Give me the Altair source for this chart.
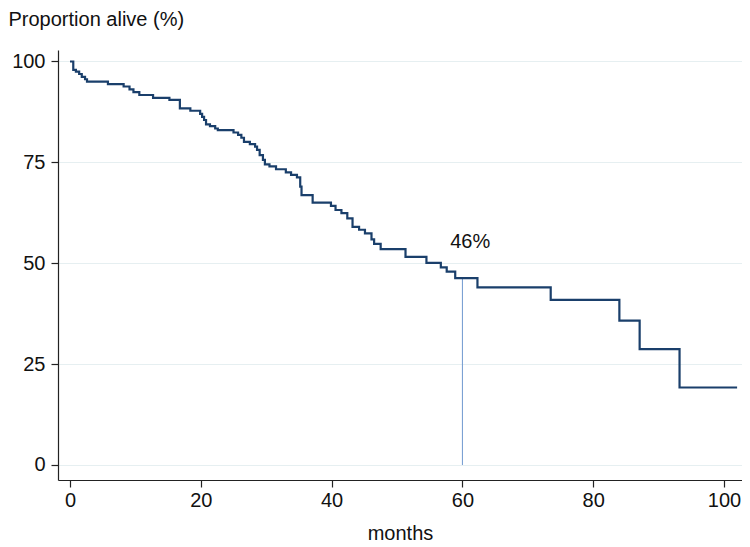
import altair as alt
import pandas as pd

# Kaplan-Meier step points: time of each drop (months) and the survival after it (%)
months = [0.0, 0.5, 0.9, 1.4, 1.8, 2.3, 2.6, 5.8, 8.2, 9.1, 9.7, 10.6, 12.7, 15.2,
          16.8, 18.4, 19.9, 20.2, 20.5, 20.8, 21.4, 22.2, 22.6, 25.0, 25.7, 26.2,
          26.6, 27.5, 28.3, 28.6, 29.0, 29.5, 29.8, 30.5, 31.5, 33.0, 33.8, 34.7,
          35.2, 35.4, 37.1, 39.9, 40.6, 41.5, 42.4, 43.2, 44.2, 45.1, 46.1, 46.5,
          47.5, 51.3, 54.5, 56.7, 57.6, 58.9, 62.3, 73.5, 84.0, 87.1, 93.2, 102.0]
survival = [100.0, 97.9, 97.5, 96.9, 96.2, 95.6, 95.0, 94.4, 93.8, 93.1, 92.4, 91.7,
            91.0, 90.5, 88.4, 87.8, 87.0, 86.3, 85.5, 84.4, 84.0, 83.4, 83.0, 82.4,
            81.8, 81.1, 80.1, 79.5, 78.9, 78.1, 76.8, 75.6, 74.5, 74.0, 73.3, 72.5,
            71.9, 71.3, 69.0, 66.9, 65.0, 64.2, 63.2, 62.4, 61.1, 59.0, 58.3, 57.4,
            55.9, 54.8, 53.5, 51.6, 50.1, 49.0, 47.9, 46.3, 44.0, 40.9, 35.8, 28.7,
            19.2, 19.2]

x_ticks = [0, 20, 40, 60, 80, 100]
y_ticks = [0, 25, 50, 75, 100]

marker_month = [60]
marker_low = [0]
marker_high = [46.3]

label_x = [61.2]
label_y = [55.3]
label_text = ["46%"]

km = pd.DataFrame({"months": months, "survival": survival})
rule_df = pd.DataFrame({"m": marker_month, "y0": marker_low, "y1": marker_high})
lab_df = pd.DataFrame({"x": label_x, "y": label_y, "t": label_text})

FONT = "Liberation Sans"
FS = 20

xscale = alt.Scale(domain=[-1.835, 102.75], nice=False, zero=False)
yscale = alt.Scale(domain=[-3.72, 102.85], nice=False, zero=False)

xaxis = alt.Axis(values=x_ticks, title="months", grid=False,
                 titleY=53, titleBaseline="middle", titleFontWeight="normal",
                 labelPadding=3)
yaxis = alt.Axis(values=y_ticks, title="Proportion alive (%)", grid=True,
                 gridColor="#e6eff1", gridWidth=1.2,
                 titleAngle=0, titleX=-50, titleY=-31, titleAlign="left",
                 titleBaseline="middle", titleFontWeight="normal",
                 labelPadding=6)

line = alt.Chart(km).mark_line(interpolate="step-after", color="#1a3f6b",
                               strokeWidth=2.2).encode(
    x=alt.X("months:Q", scale=xscale, axis=xaxis),
    y=alt.Y("survival:Q", scale=yscale, axis=yaxis),
)

rule = alt.Chart(rule_df).mark_rule(color="#6f98cf", strokeWidth=1).encode(
    x=alt.X("m:Q", scale=xscale),
    y=alt.Y("y0:Q", scale=yscale),
    y2="y1:Q",
)

text = alt.Chart(lab_df).mark_text(font=FONT, fontSize=FS, color="#111111",
                                   align="center", baseline="middle").encode(
    x=alt.X("x:Q", scale=xscale),
    y=alt.Y("y:Q", scale=yscale),
    text="t:N",
)

chart = alt.layer(rule, line, text).properties(
    width=684, height=430,
    autosize=alt.AutoSizeParams(type="none"),
    padding={"left": 50, "top": 42, "right": 0, "bottom": 66},
    background="white",
).configure_view(strokeWidth=0).configure_axis(
    labelFont=FONT, labelFontSize=FS, labelColor="#111111",
    titleFont=FONT, titleFontSize=FS, titleColor="#111111",
    domainColor="#222222", domainWidth=1.2,
    tickColor="#222222", tickSize=7, tickWidth=1.2,
)

chart.save("out.html", embed_options={"renderer": "svg", "actions": False})
